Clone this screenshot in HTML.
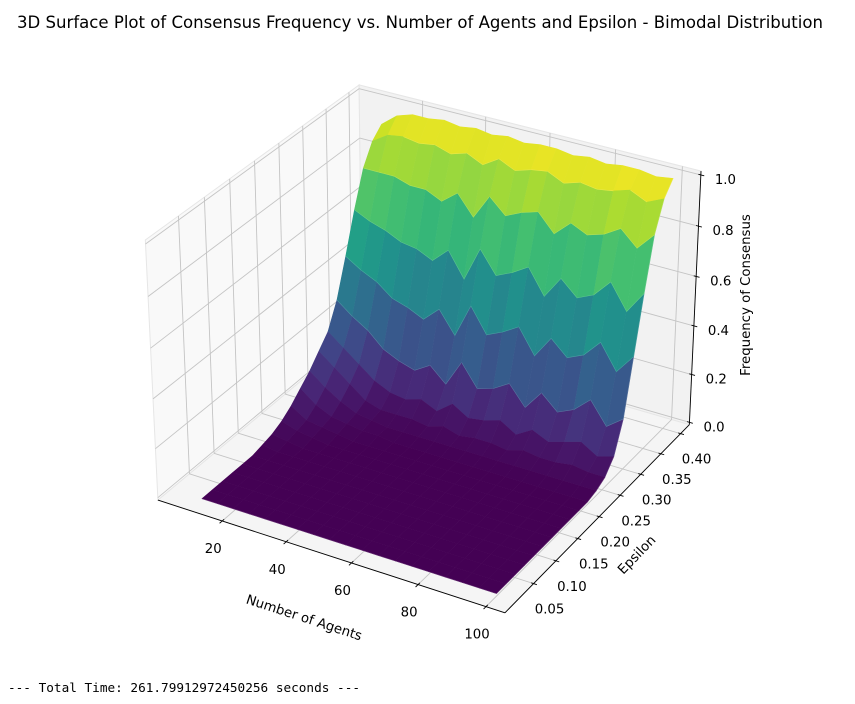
<!DOCTYPE html>
<html><head><meta charset="utf-8"><style>
html,body{margin:0;padding:0;background:#fff;}
svg{display:block;font-family:"DejaVu Sans","Liberation Sans",sans-serif;}
</style></head><body>
<svg id="chart" width="855" height="704" viewBox="0 0 855 704">
<text x="17" y="28" font-size="17" textLength="806" lengthAdjust="spacingAndGlyphs" fill="#000">3D Surface Plot of Consensus Frequency vs. Number of Agents and Epsilon - Bimodal Distribution</text>
<g id="panes"></g>
<g id="grid"></g>
<g id="axes"></g>
<g id="surf"></g>
<text x="304" y="622" font-size="13.3" text-anchor="middle" transform="rotate(18 304 618)">Number of Agents</text>
<text x="637" y="559" font-size="13.3" text-anchor="middle" transform="rotate(-46 637 555)">Epsilon</text>
<text x="750" y="295" font-size="13.3" text-anchor="middle" transform="rotate(-90 750 295)">Frequency of Consensus</text>
<text x="8" y="692" font-size="12.5" font-family="'DejaVu Sans Mono','Liberation Mono',monospace" textLength="352" lengthAdjust="spacingAndGlyphs">--- Total Time: 261.79912972450256 seconds ---</text>
</svg>
<script>
const agents=[10,15,20,25,30,35,40,45,50,55,60,65,70,75,80,85,90,95,100];
const epsilons=[0.01,0.0305,0.051,0.0716,0.0921,0.1126,0.1332,0.1537,0.1742,0.1947,0.2153,0.2358,0.2563,0.2768,0.2974,0.3179,0.3384,0.3589,0.3795,0.40];
const freqRow0=[0,0,0,0,0,0,0,0,0,0,0,0,0,0,0,0,0,0,0];
const freqRow1=[0,0,0,0,0,0,0,0,0,0,0,0,0,0,0,0,0,0,0];
const freqRow2=[0,0,0,0,0,0,0,0,0,0,0,0,0,0,0,0,0,0,0];
const freqRow3=[0,0,0,0,0,0,0,0,0,0,0,0,0,0,0,0,0,0,0];
const freqRow4=[0,0,0,0,0,0,0,0,0,0,0,0,0,0,0,0,0,0,0];
const freqRow5=[0,0,0,0,0,0,0,0,0,0,0,0,0,0,0,0,0,0,0];
const freqRow6=[0.01,0,0,0,0,0,0,0,0,0,0,0,0,0,0,0,0,0,0];
const freqRow7=[0.02,0.01,0,0,0,0,0,0,0,0,0,0,0,0,0,0,0,0,0];
const freqRow8=[0.04,0.02,0.01,0,0,0,0,0,0,0,0,0,0,0,0,0,0,0,0];
const freqRow9=[0.07,0.03,0.02,0.01,0,0,0,0,0,0,0,0,0,0,0,0,0,0,0];
const freqRow10=[0.11,0.06,0.03,0.02,0.01,0.01,0,0,0,0,0,0,0,0,0,0,0,0,0];
const freqRow11=[0.15,0.1,0.06,0.03,0.02,0.01,0.01,0.01,0.01,0.01,0.01,0.01,0.01,0.01,0.01,0.01,0.01,0.01,0.01];
const freqRow12=[0.2,0.15,0.1,0.05,0.03,0.03,0.03,0.02,0.04,0.02,0.03,0.03,0.02,0.04,0.03,0.03,0.04,0.03,0.03];
const freqRow13=[0.25,0.2,0.15,0.1,0.07,0.06,0.08,0.05,0.1,0.06,0.07,0.09,0.05,0.09,0.06,0.08,0.1,0.06,0.08];
const freqRow14=[0.35,0.3,0.26,0.2,0.17,0.15,0.19,0.13,0.24,0.15,0.17,0.21,0.13,0.21,0.15,0.18,0.24,0.15,0.2];
const freqRow15=[0.5,0.46,0.43,0.38,0.36,0.33,0.39,0.3,0.44,0.34,0.37,0.41,0.31,0.4,0.34,0.37,0.44,0.34,0.42];
const freqRow16=[0.66,0.63,0.61,0.58,0.57,0.54,0.6,0.5,0.64,0.55,0.58,0.62,0.52,0.61,0.55,0.58,0.65,0.55,0.64];
const freqRow17=[0.8,0.8,0.8,0.78,0.78,0.75,0.8,0.72,0.82,0.76,0.79,0.81,0.74,0.8,0.77,0.79,0.83,0.77,0.84];
const freqRow18=[0.88,0.92,0.93,0.92,0.93,0.91,0.93,0.9,0.94,0.91,0.93,0.94,0.91,0.93,0.92,0.93,0.95,0.92,0.95];
const freqRow19=[0.92,0.97,0.99,0.99,1.0,0.99,1.0,0.99,1.0,0.99,1.0,1.0,0.99,1.0,0.99,1.0,1.0,0.99,1.0];
const xTicks=[20,40,60,80,100];
const xTickLabels=["20","40","60","80","100"];
const yTicks=[0.05,0.10,0.15,0.20,0.25,0.30,0.35,0.40];
const yTickLabels=["0.05","0.10","0.15","0.20","0.25","0.30","0.35","0.40"];
const zTicks=[0,0.2,0.4,0.6,0.8,1.0];
const zTickLabels=["0.0","0.2","0.4","0.6","0.8","1.0"];

const Z=[freqRow0,freqRow1,freqRow2,freqRow3,freqRow4,freqRow5,freqRow6,freqRow7,freqRow8,freqRow9,freqRow10,freqRow11,freqRow12,freqRow13,freqRow14,freqRow15,freqRow16,freqRow17,freqRow18,freqRow19];
const NS="http://www.w3.org/2000/svg";
const XL=[-0.5,105.5], YL=[-0.0125,0.4225], ZL=[-0.01,1.015];
let B=[4,4,3]; const bn=Math.hypot(4,4,3); const bf=1.8294640721620434*25/24/bn; B=B.map(v=>v*bf);
const el=30*Math.PI/180, az=-60*Math.PI/180;
const w=[Math.cos(el)*Math.cos(az),Math.cos(el)*Math.sin(az),Math.sin(el)];
const R=B.map(v=>v/2); const eye=R.map((r,i)=>r+10*w[i]);
function cross(a,b){return [a[1]*b[2]-a[2]*b[1],a[2]*b[0]-a[0]*b[2],a[0]*b[1]-a[1]*b[0]];}
function nrm(a){const l=Math.hypot(...a);return a.map(v=>v/l);}
const u=nrm(cross([0,0,1],w)); const v=cross(w,u);
function raw(x,y,z){
  const p=[(x-XL[0])/(XL[1]-XL[0])*B[0],(y-YL[0])/(YL[1]-YL[0])*B[1],(z-ZL[0])/(ZL[1]-ZL[0])*B[2]];
  const d=p.map((q,i)=>q-eye[i]);
  const a=d[0]*u[0]+d[1]*u[1]+d[2]*u[2], b=d[0]*v[0]+d[1]*v[1]+d[2]*v[2], c=d[0]*w[0]+d[1]*w[1]+d[2]*w[2];
  return [a/(-c), b/(-c), -c];
}
const anchors=[[[XL[0],YL[0],ZL[0]],[158,500]],[[XL[1],YL[0],ZL[0]],[505,613]],[[XL[1],YL[1],ZL[0]],[690,423]],[[20,YL[0],ZL[0]],[225,523]],[[XL[1],0.40,ZL[0]],[682,433]],[[XL[1],YL[1],1.0],[700,173]],[[XL[0],YL[1],ZL[1]],[355,87]]];
function fit(k){let n=anchors.length,sx=0,sy=0,sxx=0,sxy=0;anchors.forEach(a=>{const p=raw(...a[0])[k],q=a[1][k];sx+=p;sy+=q;sxx+=p*p;sxy+=p*q;});const m=(n*sxy-sx*sy)/(n*sxx-sx*sx);return [m,(sy-m*sx)/n];}
const FX=fit(0), FY=fit(1);
function S(x,y,z){const r=raw(x,y,z);return [FX[0]*r[0]+FX[1],FY[0]*r[1]+FY[1],r[2]];}
function mk(tag,attrs,parent){const e=document.createElementNS(NS,tag);for(const k in attrs)e.setAttribute(k,attrs[k]);parent.appendChild(e);return e;}
function pts(arr){return arr.map(p=>p[0].toFixed(2)+","+p[1].toFixed(2)).join(" ");}
const gP=document.getElementById('panes'),gG=document.getElementById('grid'),gA=document.getElementById('axes'),gS=document.getElementById('surf');
let pe;
pe=mk('polygon',{points:pts([S(XL[0],YL[0],ZL[0]),S(XL[0],YL[1],ZL[0]),S(XL[0],YL[1],ZL[1]),S(XL[0],YL[0],ZL[1])]),fill:'#f9f9f9',stroke:'#e6e6e6','stroke-width':1},gP);


pe=mk('polygon',{points:pts([S(XL[0],YL[1],ZL[0]),S(XL[1],YL[1],ZL[0]),S(XL[1],YL[1],ZL[1]),S(XL[0],YL[1],ZL[1])]),fill:'#f2f2f2',stroke:'#e6e6e6','stroke-width':1},gP);


pe=mk('polygon',{points:pts([S(XL[0],YL[0],ZL[0]),S(XL[1],YL[0],ZL[0]),S(XL[1],YL[1],ZL[0]),S(XL[0],YL[1],ZL[0])]),fill:'#f5f5f5',stroke:'#e6e6e6','stroke-width':1},gP);


function gl(a,b){const l=mk('line',{x1:a[0],y1:a[1],x2:b[0],y2:b[1],stroke:'#c4c4c4','stroke-width':0.9},gG);return l;}
let ln;
xTicks.forEach(x=>{ln=gl(S(x,YL[0],ZL[0]),S(x,YL[1],ZL[0]));
 ln=gl(S(x,YL[1],ZL[0]),S(x,YL[1],ZL[1]));});
yTicks.forEach(y=>{ln=gl(S(XL[0],y,ZL[0]),S(XL[1],y,ZL[0]));
 ln=gl(S(XL[0],y,ZL[0]),S(XL[0],y,ZL[1]));});
zTicks.forEach(z=>{ln=gl(S(XL[0],YL[0],z),S(XL[0],YL[1],z));
 ln=gl(S(XL[0],YL[1],z),S(XL[1],YL[1],z));});
function al(a,b,name){const l=mk('line',{x1:a[0],y1:a[1],x2:b[0],y2:b[1],stroke:'#000','stroke-width':0.9},gA);}
al(S(XL[0],YL[0],ZL[0]),S(XL[1],YL[0],ZL[0]),'x-axis-line');
al(S(XL[1],YL[0],ZL[0]),S(XL[1],YL[1],ZL[0]),'y-axis-line');
al(S(XL[1],YL[1],ZL[0]),S(XL[1],YL[1],ZL[1]),'z-axis-line');
function tick(p,q,lbl,off,anchor,name){
  const d=nrm([q[0]-p[0],q[1]-p[1]]);
  const t=mk('line',{x1:p[0]-d[0]*2.5,y1:p[1]-d[1]*2.5,x2:p[0]+d[0]*3.5,y2:p[1]+d[1]*3.5,stroke:'#000','stroke-width':0.9},gA);
  
  
  const tx=mk('text',{x:p[0]+off[0],y:p[1]+off[1],'font-size':13.3,'text-anchor':anchor},gA);
  tx.textContent=lbl;
  
  
}
xTicks.forEach((x,i)=>tick(S(x,YL[0],ZL[0]),S(x,YL[0]-0.1,ZL[0]),xTickLabels[i],[-9,32],'middle','x'));
yTicks.forEach((y,i)=>tick(S(XL[1],y,ZL[0]),S(XL[1]+10,y,ZL[0]),yTickLabels[i],[16,30],'middle','y'));
zTicks.forEach((z,i)=>tick(S(XL[1],YL[1],z),S(XL[1]+10,YL[1],z),zTickLabels[i],[14,9],'start','z'));
const VIR=["#440154","#482475","#414487","#355f8d","#2a788e","#21918c","#22a884","#44bf70","#7ad151","#bddf26","#fde725"];
function hx(h){return [1,3,5].map(i=>parseInt(h.substr(i,2),16));}
function viridis(t){t=Math.max(0,Math.min(1,t))*10;const i=Math.min(9,Math.floor(t)),f=t-i;const a=hx(VIR[i]),b=hx(VIR[i+1]);return 'rgb('+a.map((c,k)=>Math.round(c+(b[k]-c)*f)).join(',')+')';}
let zmin=Infinity,zmax=-Infinity;Z.forEach(r=>r.forEach(q=>{zmin=Math.min(zmin,q);zmax=Math.max(zmax,q);}));
const quads=[];
for(let j=0;j<epsilons.length-1;j++)for(let i=0;i<agents.length-1;i++){
  const c=[[i,j],[i+1,j],[i+1,j+1],[i,j+1]];
  const P=c.map(([a,b])=>S(agents[a],epsilons[b],Z[b][a]));
  const zm=c.reduce((s,[a,b])=>s+Z[b][a],0)/4;
  const dep=P.reduce((s,p)=>s+p[2],0)/4;
  quads.push({P,zm,dep});
}
quads.sort((a,b)=>b.dep-a.dep);
quads.forEach(q=>{
  const col=viridis((q.zm-zmin)/(zmax-zmin));
  const pg=mk('polygon',{points:pts(q.P),fill:col,stroke:col,'stroke-width':0.6,'stroke-linejoin':'round'},gS);
  
  
  const ed=mk('polyline',{points:pts([q.P[0],q.P[1],q.P[2]]),fill:'none',stroke:'rgba(255,255,255,0.18)','stroke-width':0.6},gS);
  
  
});
</script>
</body></html>
